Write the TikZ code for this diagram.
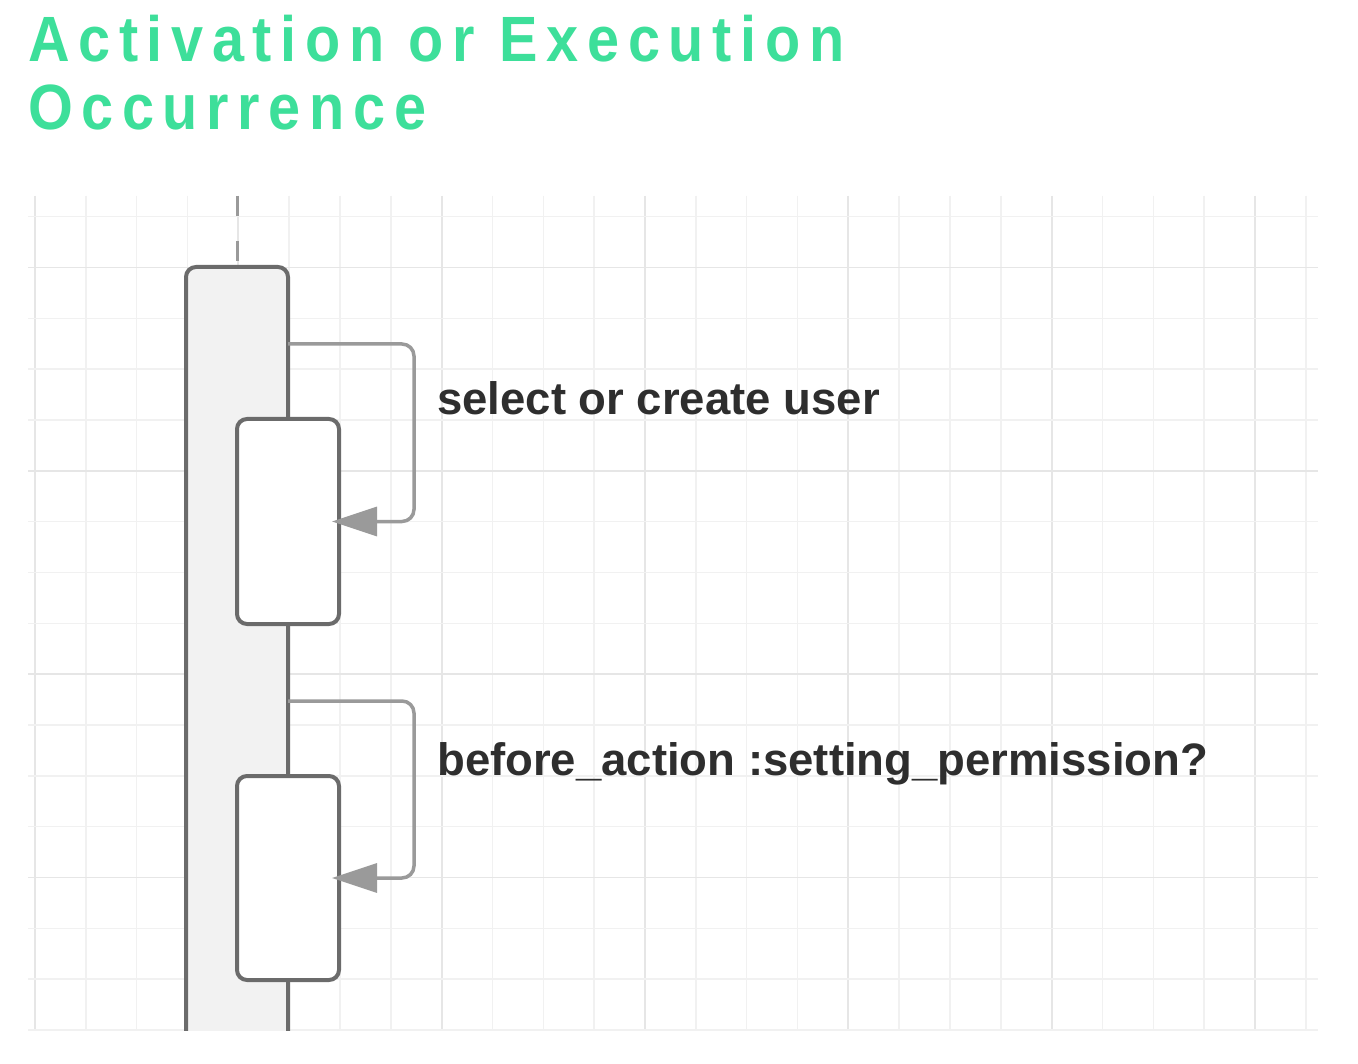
\documentclass[tikz,border=0pt]{standalone}
\usepackage{fontspec}
\setmainfont{Liberation Sans}
\newfontfamily\titlefont[FakeStretch=0.9,LetterSpace=13.5]{Liberation Sans}
\usetikzlibrary{arrows.meta,calc}
\definecolor{titlegreen}{HTML}{3DDF9A}
\definecolor{gridminor}{HTML}{F1F1F1}
\definecolor{gridmajor}{HTML}{E6E6E6}
\definecolor{boxline}{HTML}{6B6B6B}
\definecolor{boxfill}{HTML}{F2F2F2}
\definecolor{loopline}{HTML}{9A9A9A}
\definecolor{labeltext}{HTML}{2E2E2E}
\tikzset{
  minorline/.style={draw=gridminor,line width=1.5pt},
  majorline/.style={draw=gridmajor,line width=1.8pt},
  actbox/.style={draw=boxline,line width=4pt,rounded corners=10pt,inner sep=0pt,outer sep=0pt,minimum width=102pt},
  selfcall/.style={draw=loopline,line width=3.5pt,rounded corners=12pt,
    -{Triangle[length=45pt,width=29pt]},shorten >=-7pt},
  lifeline/.style={draw=loopline,line width=3pt,dash pattern=on 20pt off 25pt},
  msg/.style={font=\fontsize{45.5}{50}\selectfont\bfseries,text=labeltext,anchor=base west,inner sep=0pt},
  heading/.style={font=\fontsize{64}{70}\selectfont\titlefont\bfseries,text=titlegreen,anchor=base west,inner sep=0pt}
}
\begin{document}
\begin{tikzpicture}[x=1pt,y=-1pt]
\useasboundingbox[fill=white] (0,0) rectangle (1358,1064);
% grid
\foreach \k in {0,...,25}{
  \pgfmathsetmacro{\gx}{35+50.83*\k}
  \pgfmathtruncatemacro{\m}{mod(\k,4)}
  \ifnum\m=0
    \draw[majorline] (\gx,196) -- (\gx,1030);
  \else
    \draw[minorline] (\gx,196) -- (\gx,1030);
  \fi
}
\foreach \k in {0,...,16}{
  \pgfmathsetmacro{\gy}{216.7+50.83*\k}
  \pgfmathtruncatemacro{\m}{mod(\k+3,4)}
  \ifnum\m=0
    \draw[majorline] (28,\gy) -- (1318,\gy);
  \else
    \draw[minorline] (28,\gy) -- (1318,\gy);
  \fi
}
% title
\node[heading] (t1) at (28,62) {Activation or Execution};
\node[heading] (t2) at (28,130) {Occurrence};
% main activation (open at the bottom)
\begin{scope}
  \clip (0,0) rectangle (1358,1030);
  \node[actbox,fill=boxfill,minimum height=820pt,anchor=north] (main) at (237,267) {};
\end{scope}
\coordinate (top) at (237,196);
\draw[lifeline] (top) -- (main.north);
% nested activations
\node[actbox,fill=white,minimum height=205pt,anchor=north] (box1) at (288,419) {};
\node[actbox,fill=white,minimum height=204pt,anchor=north] (box2) at (288,776) {};
% self calls
\coordinate (s1) at (288,344);
\coordinate (s2) at (288,701);
\draw[selfcall] (s1) -- (414,344) -- (414,521.5) -- (box1.east);
\draw[selfcall] (s2) -- (414,701) -- (414,878) -- (box2.east);
% labels
\node[msg] (m1) at (437,415) {select or create user};
\node[msg] (m2) at (437,775) {before\_action :setting\_permission?};
\end{tikzpicture}
\end{document}
